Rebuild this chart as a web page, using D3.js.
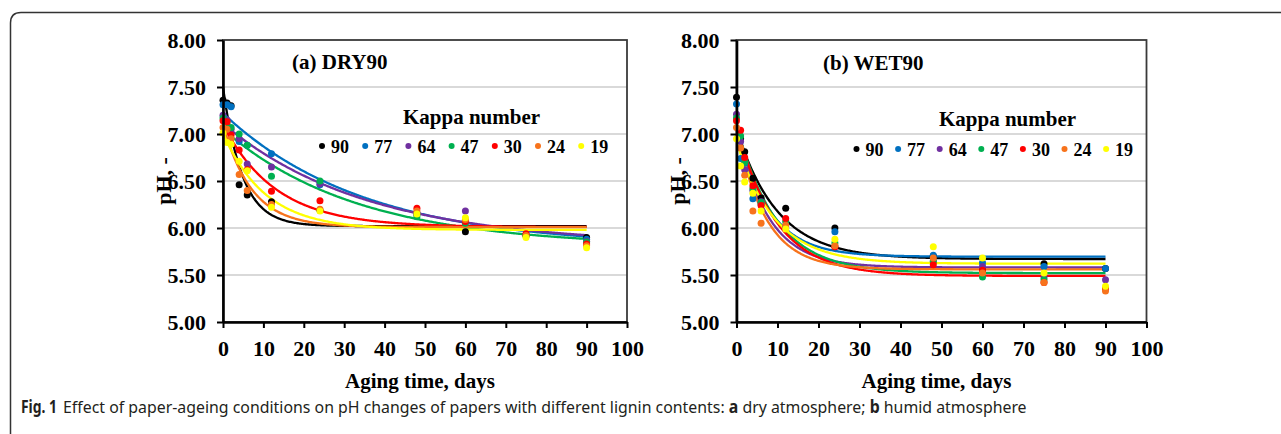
<!DOCTYPE html>
<html>
<head>
<meta charset="utf-8">
<script src="https://cdn.jsdelivr.net/npm/d3@7"></script>
<style>
  body { margin: 0; background: #fff; }
  svg { display: block; }
  .serif { font-family: "Liberation Serif", "Times New Roman", serif; font-weight: bold; fill: #000; }
</style>
</head>
<body>
<script>
'use strict';

// sampling days (x) and kappa numbers (series)
const days = [0, 1, 2, 4, 6, 12, 24, 48, 60, 75, 90];
const kappa = ["90", "77", "64", "47", "30", "24", "19"];
const colors = ["#000000", "#0070C0", "#7030A0", "#00B050", "#FF0000", "#F7731C", "#FFFF00"];

const xTicks = [0, 10, 20, 30, 40, 50, 60, 70, 80, 90, 100];
const yTicks = [5.0, 5.5, 6.0, 6.5, 7.0, 7.5, 8.0];

// (a) DRY90 measured pH, one row per kappa number
const dryPH = [
    [7.36, 7.33, 7.30, 6.46, 6.35, 6.28, 6.19, 6.15, 5.96, 5.92, 5.90],
    [7.31, 7.31, 7.29, 6.92, 6.88, 6.79, 6.46, 6.15, 6.06, 5.92, 5.88],
    [7.20, 7.15, 7.05, 6.95, 6.68, 6.65, 6.47, 6.16, 6.18, 5.92, 5.86],
    [7.17, 7.12, 7.07, 7.00, 6.88, 6.55, 6.50, 6.12, 6.05, 5.92, 5.85],
    [7.14, 7.13, 6.99, 6.83, 6.62, 6.39, 6.29, 6.21, 6.07, 5.94, 5.83],
    [7.07, 7.05, 6.95, 6.57, 6.40, 6.25, 6.20, 6.18, 6.09, 5.92, 5.81],
    [7.01, 6.91, 6.89, 6.71, 6.61, 6.22, 6.18, 6.15, 6.11, 5.90, 5.79]
];
// (a) fitted first-order curves: start value, plateau, rate (1/day)
const dryFitStart = [7.50, 7.22, 7.11, 7.05, 7.10, 7.10, 7.01];
const dryFitEnd = [6.02, 5.80, 5.82, 5.80, 6.01, 6.01, 5.98];
const dryFitRate = [0.21, 0.0285, 0.028, 0.030, 0.076, 0.14, 0.095];

// (b) WET90 measured pH
const wetPH = [
    [7.39, 6.95, 6.81, 6.53, 6.32, 6.21, 6.00, 5.70, 5.55, 5.62, 5.57],
    [7.32, 6.74, 6.69, 6.31, 6.25, 6.02, 5.96, 5.71, 5.63, 5.59, 5.57],
    [7.21, 6.92, 6.62, 6.40, 6.28, 6.00, 5.80, 5.65, 5.59, 5.48, 5.45],
    [7.17, 6.98, 6.70, 6.42, 6.27, 6.07, 5.84, 5.64, 5.48, 5.45, 5.36],
    [7.14, 7.04, 6.75, 6.45, 6.24, 6.10, 5.80, 5.61, 5.55, 5.42, 5.35],
    [7.07, 6.85, 6.56, 6.18, 6.05, 6.03, 5.81, 5.68, 5.52, 5.42, 5.33],
    [6.95, 6.66, 6.49, 6.37, 6.18, 5.99, 5.88, 5.80, 5.68, 5.52, 5.38]
];
const wetFitStart = [7.05, 7.10, 7.06, 7.10, 7.09, 7.05, 6.92];
const wetFitEnd = [5.67, 5.695, 5.58, 5.52, 5.49, 5.56, 5.62];
const wetFitRate = [0.10, 0.13, 0.13, 0.105, 0.105, 0.14, 0.107];

// caption pieces: [text, bold]
const captionParts = [
    ["Effect of paper-ageing conditions on pH changes of papers with different lignin contents: ", false],
    ["a", true],
    [" dry atmosphere; ", false],
    ["b", true],
    [" humid atmosphere", false]
];

const panels = [
    { title: "(a) DRY90", values: dryPH, fitStart: dryFitStart, fitEnd: dryFitEnd, fitRate: dryFitRate,
      left: 223, right: 627, titleX: 292, titleY: 69, legX: 403, legY: 124,
      dotX: 322, dotStep: 43.2, dotY: 146, yTitleX: 171 },
    { title: "(b) WET90", values: wetPH, fitStart: wetFitStart, fitEnd: wetFitEnd, fitRate: wetFitRate,
      left: 736.5, right: 1146.5, titleX: 823, titleY: 70, legX: 939, legY: 126,
      dotX: 856.5, dotStep: 41.6, dotY: 149, yTitleX: 685 }
];

const plotTop = 40, plotBottom = 322;

const svg = d3.select("body").append("svg")
    .attr("width", 1281)
    .attr("height", 434);

// outer frame with rounded top-left corner
svg.append("path")
    .attr("d", "M10.5,440 L10.5,23 Q10.5,12.5 21,12.5 L1290,12.5")
    .attr("fill", "none")
    .attr("stroke", "#333")
    .attr("stroke-width", 1.5);

panels.forEach(function(p) {
    const x = d3.scaleLinear().domain([0, 100]).range([p.left, p.right]);
    const y = d3.scaleLinear().domain([5, 8]).range([plotBottom, plotTop]);
    const g = svg.append("g");

    // grid
    g.selectAll(".grid")
        .data(yTicks.filter(d => d > 5 && d < 8))
        .enter().append("line")
        .attr("x1", x(0)).attr("x2", x(100))
        .attr("y1", d => y(d)).attr("y2", d => y(d))
        .attr("stroke", "#d9d9d9")
        .attr("stroke-width", 2);

    // plot border
    g.append("rect")
        .attr("x", x(0)).attr("y", y(8))
        .attr("width", x(100) - x(0)).attr("height", y(5) - y(8))
        .attr("fill", "none")
        .attr("stroke", "#3a3a3a")
        .attr("stroke-width", 1.8);

    // fitted curves
    const tSample = d3.range(0, 90.25, 0.25);
    const line = d3.line()
        .x(d => x(d[0]))
        .y(d => y(d[1]));
    kappa.forEach(function(k, i) {
        const pts = tSample.map(t => [t, p.fitEnd[i] + (p.fitStart[i] - p.fitEnd[i]) * Math.exp(-p.fitRate[i] * t)]);
        g.append("path")
            .datum(pts)
            .attr("d", line)
            .attr("fill", "none")
            .attr("stroke", colors[i])
            .attr("stroke-width", 2.3);
    });

    // measured points
    kappa.forEach(function(k, i) {
        g.selectAll(".pt" + i)
            .data(days.map((d, j) => [d, p.values[i][j]]).filter(d => d[1] != null))
            .enter().append("circle")
            .attr("cx", d => x(d[0]))
            .attr("cy", d => y(d[1]))
            .attr("r", 3.5)
            .attr("fill", colors[i]);
    });

    // axes
    const yAxis = d3.axisLeft(y).tickValues(yTicks).tickFormat(d3.format(".2f"))
        .tickSize(6).tickSizeOuter(0).tickPadding(11);
    const xAxis = d3.axisBottom(x).tickValues(xTicks).tickFormat(d3.format("d"))
        .tickSize(6).tickSizeOuter(0).tickPadding(12);

    const ya = g.append("g").attr("transform", "translate(" + x(0) + ",0)").call(yAxis);
    const xa = g.append("g").attr("transform", "translate(0," + y(5) + ")").call(xAxis);
    [ya, xa].forEach(function(a) {
        a.select(".domain").attr("stroke", "#000").attr("stroke-width", 2.6);
        a.selectAll(".tick line").attr("stroke", "#000").attr("stroke-width", 2);
        a.selectAll(".tick text").attr("class", "serif").style("font-size", "22px");
    });

    // axis titles
    g.append("text").attr("class", "serif")
        .attr("x", (x(0) + x(100)) / 2 - 5).attr("y", 388)
        .attr("text-anchor", "middle")
        .style("font-size", "21px")
        .text("Aging time, days");
    g.append("text").attr("class", "serif")
        .attr("transform", "translate(" + p.yTitleX + "," + ((plotTop + plotBottom) / 2) + ") rotate(-90)")
        .attr("text-anchor", "middle")
        .style("font-size", "22px")
        .text("pH, -");

    // panel title
    g.append("text").attr("class", "serif")
        .attr("x", p.titleX).attr("y", p.titleY)
        .style("font-size", "21px")
        .text(p.title);

    // legend
    g.append("text").attr("class", "serif")
        .attr("x", p.legX).attr("y", p.legY)
        .style("font-size", "21px")
        .text("Kappa number");
    kappa.forEach(function(k, i) {
        const cx = p.dotX + i * p.dotStep;
        g.append("circle")
            .attr("cx", cx).attr("cy", p.dotY)
            .attr("r", 3)
            .attr("fill", colors[i]);
        g.append("text").attr("class", "serif")
            .attr("x", cx + 9).attr("y", p.dotY + 6.5)
            .style("font-size", "18px")
            .text(k);
    });
});

// caption, condensed horizontally to the width of the original
const cap = svg.append("g")
    .style("font-family", "'Noto Sans', 'Open Sans', sans-serif")
    .style("font-size", "17px")
    .style("fill", "#231f20");

const figLabel = cap.append("g");
const figText = figLabel.append("text")
    .style("font-weight", "bold")
    .text("Fig. 1");
const figW = figText.node().getComputedTextLength();
figLabel.attr("transform", "translate(21,413) scale(" + (36 / figW) + ",1)");

const capBody = cap.append("g");
const capText = capBody.append("text").attr("xml:space", "preserve");
captionParts.forEach(function(part) {
    capText.append("tspan")
        .style("font-weight", part[1] ? "bold" : "normal")
        .text(part[0]);
});
const capW = capText.node().getComputedTextLength();
capBody.attr("transform", "translate(63,413) scale(" + (964 / capW) + ",1)");
</script>
</body>
</html>
